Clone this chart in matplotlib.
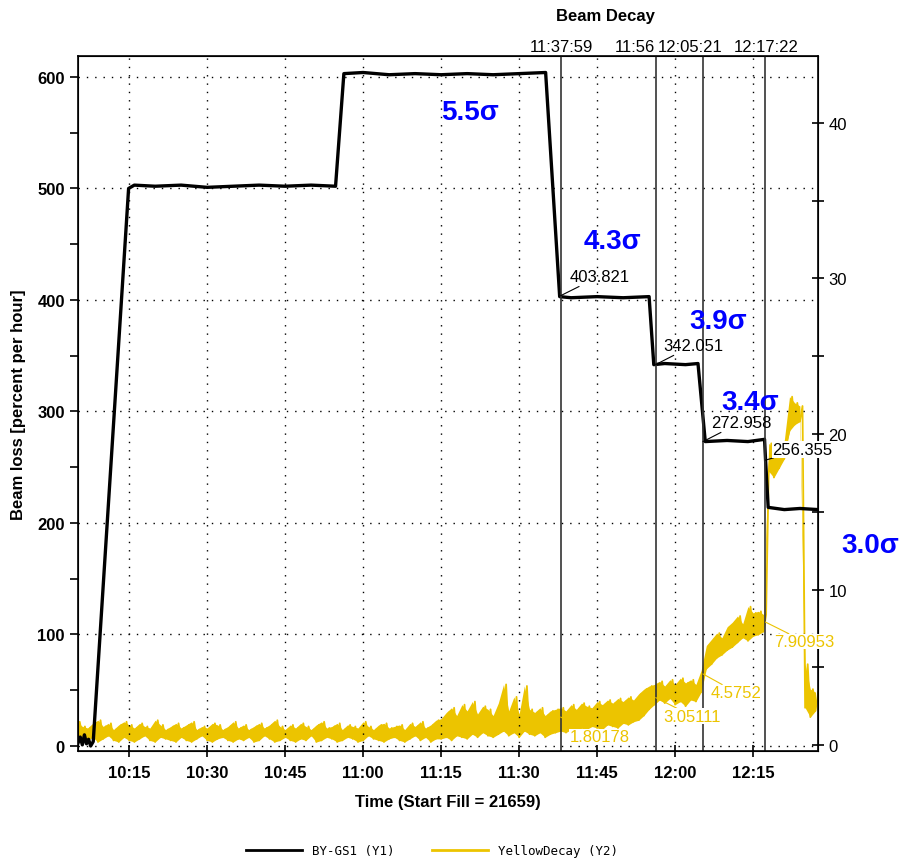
import numpy as np
import matplotlib
matplotlib.use("Agg")
import matplotlib.pyplot as plt
from matplotlib.lines import Line2D
from matplotlib.ticker import MultipleLocator, FuncFormatter

plt.rcParams['font.family'] = ['Liberation Sans', 'DejaVu Sans']

# BY-GS1 (Y1), minutes after 10:00 -> percent per hour
black_t = [5.2, 5.6, 6.0, 6.4, 6.8, 7.2, 7.6, 8.1, 14.9, 16, 20, 25, 30, 35, 40, 45, 50, 54.7,
           56.3, 60, 65, 70, 75, 80, 85, 90, 95.1, 97.8, 100, 105, 110, 115.0, 115.9, 118,
           122, 124.4, 125.8, 130, 134, 137.2, 137.4, 137.9, 141, 144, 147.5]
black_v = [3, 8, 1, 10, 2, 6, 0, 4, 500, 503, 502, 503, 501, 502, 503, 502, 503, 502,
           603, 604, 602, 603, 602, 603, 602, 603, 604, 403, 402, 403, 402, 403, 342, 343,
           342, 343, 273, 274, 273, 275, 256, 214, 212, 213, 212]

# YellowDecay (Y2), one low/high pair per minute from 10:05 to 12:27
yellow_t = np.arange(5, 148)
yellow_hi = [1.5, 1.2, 1.1, 1.4, 1.6, 1.2, 1.4, 1.0, 1.3, 1.5,
             1.3, 1.1, 1.4, 1.2, 1.1, 1.6, 1.3, 1.0, 1.2, 1.4,
             1.1, 1.3, 1.5, 1.0, 1.2, 1.1, 1.4, 1.3, 1.0, 1.2,
             1.5, 1.1, 1.3, 1.0, 1.2, 1.4, 1.1, 1.3, 1.6, 1.2,
             1.0, 1.3, 1.1, 1.4, 1.2, 1.0, 1.3, 1.5, 1.1, 1.2,
             1.4, 1.0, 1.3, 1.2, 1.1, 1.5, 1.2, 1.0, 1.3, 1.4,
             1.1, 1.2, 1.3, 1.0, 1.4, 1.2, 1.5, 1.1, 1.3, 1.6,
             1.7, 2.1, 2.4, 1.9, 2.6, 2.2, 2.8, 2.0, 2.5, 2.3, 1.9, 2.7,
             3.9, 2.2, 3.1, 2.0, 3.8, 2.3, 2.1, 2.4, 1.9, 2.2, 2.3,
             2.4, 2.2, 2.6, 2.3, 2.7, 2.5, 2.4, 2.8, 2.6, 2.9, 2.7, 3.0,
             2.8, 3.1, 2.9, 3.3, 3.6, 3.8,
             3.9, 4.1, 3.8, 4.2, 3.9, 4.3, 4.0, 4.2, 3.9, 4.8,
             6.4, 6.8, 7.2, 6.9, 7.6, 7.9, 8.3, 7.8, 8.9, 8.5, 8.6, 8.4,
             19.4, 19.0, 19.3, 19.6, 22.4, 22.0, 21.8, 5.2, 3.6, 3.4]
yellow_lo = [0.4, 0.6, 0.3, 0.5, 0.2, 0.4, 0.6, 0.3, 0.2, 0.5,
             0.3, 0.2, 0.4, 0.6, 0.3, 0.2, 0.5, 0.4, 0.3, 0.2,
             0.5, 0.3, 0.2, 0.4, 0.6, 0.3, 0.2, 0.4, 0.5, 0.3,
             0.2, 0.4, 0.3, 0.5, 0.2, 0.3, 0.6, 0.4, 0.2, 0.3,
             0.5, 0.3, 0.2, 0.4, 0.3, 0.6, 0.2, 0.3, 0.5, 0.4,
             0.2, 0.3, 0.5, 0.4, 0.2, 0.3, 0.6, 0.4, 0.3, 0.2,
             0.4, 0.5, 0.3, 0.2, 0.4, 0.6, 0.3, 0.5, 0.2, 0.4,
             0.4, 0.5, 0.3, 0.6, 0.5, 0.4, 0.7, 0.5, 0.8, 0.6, 0.5, 0.7,
             0.9, 0.6, 0.8, 0.5, 0.9, 0.7, 0.6, 0.8, 0.5, 0.7, 0.8,
             0.9, 0.8, 1.0, 0.9, 1.1, 1.0, 1.2, 1.1, 1.0, 1.3, 1.2, 1.1,
             1.4, 1.3, 1.5, 1.6, 1.9, 2.3,
             2.6, 2.9, 2.7, 3.0, 2.6, 2.8, 2.5, 2.9, 2.8, 3.4,
             4.9, 5.2, 5.6, 5.8, 6.1, 6.3, 6.6, 6.9, 6.7, 7.0, 7.1, 7.3,
             17.6, 17.2, 17.8, 18.4, 20.2, 20.6, 20.8, 2.4, 1.8, 2.2]

decay_t = [97.98, 116.27, 125.35, 137.37]
decay_black = [403.821, 342.051, 272.958, 256.355]
decay_yellow = [1.80178, 3.05111, 4.5752, 7.90953]

YELLOW = '#ecc400'
W, H = 905, 862

fig = plt.figure(figsize=(W / 100, H / 100), dpi=100)
ax1 = fig.add_axes([78 / W, 1 - 752 / H, 740 / W, 695 / H])
ax2 = ax1.twinx()
ax1.set_zorder(ax2.get_zorder() + 1)
ax1.patch.set_visible(False)

# yellow noise band: filled between the readings, with the jitter drawn on top
zig_t = np.column_stack([yellow_t, yellow_t + 0.5]).ravel()
zig_v = np.column_stack([yellow_lo, yellow_hi]).ravel()
ax2.fill_between(yellow_t, yellow_lo, yellow_hi, color=YELLOW, lw=0)
ax2.plot(zig_t, zig_v, color=YELLOW, lw=1.3)

ax1.plot(black_t, black_v, color='black', lw=2.4)

for t in decay_t:
    ax1.axvline(t, color='#333333', lw=1.2)

ax1.set_xlim(5.17, 147.48)
ax1.set_ylim(-4.5, 618.8)
ax2.set_ylim(-0.38, 44.3)

ax1.xaxis.set_major_locator(MultipleLocator(15))
ax1.xaxis.set_major_formatter(FuncFormatter(
    lambda v, p: '%d:%02d' % (10 + int(v) // 60, int(v) % 60)))
ax1.yaxis.set_major_locator(MultipleLocator(100))
ax1.yaxis.set_minor_locator(MultipleLocator(50))
ax2.yaxis.set_major_locator(MultipleLocator(10))
ax2.yaxis.set_minor_locator(MultipleLocator(5))

ax1.grid(True, which='major', color='black', linestyle=(0, (1, 5)), lw=1)
ax1.tick_params(axis='x', direction='inout', length=8, width=1.2, labelsize=12, pad=6)
ax1.tick_params(axis='y', direction='out', length=6, width=1.2, labelsize=12)
ax1.tick_params(axis='y', which='minor', direction='out', length=6, width=1.2)
ax2.tick_params(axis='y', which='both', direction='inout', length=8, width=1.2, labelsize=12)
for lab in ax1.get_xticklabels() + ax1.get_yticklabels():
    lab.set_fontweight('bold')
for sp in ax1.spines.values():
    sp.set_linewidth(1.2)

ax1.set_xlabel('Time (Start Fill = 21659)', fontsize=12, fontweight='bold', labelpad=10)
ax1.set_ylabel('Beam loss [percent per hour]', fontsize=12, fontweight='bold', labelpad=8)

# value readouts at the decay cursors
offs_b = [(9, 12), (8, 12), (8, 12), (7, 3)]
for i, (t, v, o) in enumerate(zip(decay_t, decay_black, offs_b)):
    kw = {}
    if i == len(decay_t) - 1:
        kw['bbox'] = dict(facecolor='white', edgecolor='none', pad=0.5)
    ax1.annotate('%g' % v, xy=(t, v), xytext=o, textcoords='offset pixels',
                 fontsize=12, ha='left', va='bottom', color='black',
                 arrowprops=dict(arrowstyle='-', color='black', lw=0.8,
                                 shrinkA=0, shrinkB=0), **kw)
# yellow readouts use Y2 data coordinates but sit on the top axes
offs_y = [(9, -12), (8, -11), (8, -11), (9, -12)]
for t, v, o in zip(decay_t, decay_yellow, offs_y):
    ax1.annotate('%g' % v, xy=(t, v), xycoords=ax2.transData, xytext=o,
                 textcoords='offset pixels', fontsize=12, ha='left', va='top',
                 color=YELLOW, zorder=5,
                 bbox=dict(facecolor='white', edgecolor='none', pad=0.3),
                 arrowprops=dict(arrowstyle='-', color=YELLOW, lw=0.8,
                                 shrinkA=0, shrinkB=0))

# header above the cursors
fig.text(605 / W, 1 - 16 / H, 'Beam Decay', fontsize=12, fontweight='bold',
         ha='center', va='center')
fig.text(561 / W, 1 - 47 / H, '11:37:59', fontsize=12, ha='center', va='center')
fig.text(655 / W, 1 - 47 / H, '11:56', fontsize=12, ha='right', va='center')
fig.text(658 / W, 1 - 47 / H, '12:05:21', fontsize=12, ha='left', va='center')
fig.text(766 / W, 1 - 47 / H, '12:17:22', fontsize=12, ha='center', va='center',
         bbox=dict(facecolor='white', edgecolor='none', pad=0.3))

# emittance labels
sig_labels = ['5.5σ', '4.3σ', '3.9σ', '3.4σ', '3.0σ']
sig_pos = [(470, 113), (612, 242), (718, 322), (750, 403), (870, 546)]
for s, (px, py) in zip(sig_labels, sig_pos):
    fig.text(px / W, 1 - py / H, s, fontsize=20, fontweight='bold', color='#0000ff',
             ha='center', va='center')

handles = [Line2D([], [], color='black', lw=2), Line2D([], [], color=YELLOW, lw=2)]
fig.legend(handles, ['BY-GS1 (Y1)', 'YellowDecay (Y2)'], loc='center',
           bbox_to_anchor=(432 / W, 1 - 852 / H), ncol=2, frameon=False,
           handlelength=4.5, columnspacing=3, prop={'family': 'DejaVu Sans Mono', 'size': 9})

fig.savefig('out.png', dpi=100)
